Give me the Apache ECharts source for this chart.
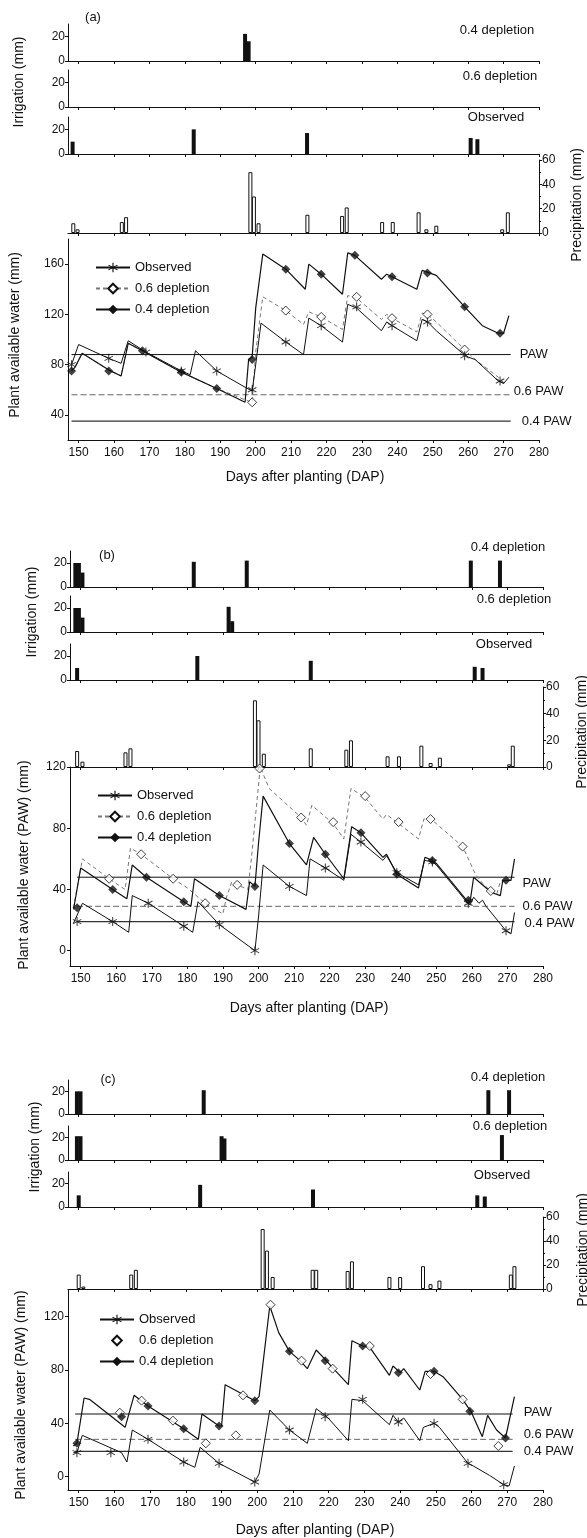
<!DOCTYPE html>
<html><head><meta charset="utf-8">
<script src="https://cdn.jsdelivr.net/npm/echarts@6/dist/echarts.min.js"></script>
<style>html,body{margin:0;padding:0;background:#fff}#chart{width:587px;height:1538px}</style>
</head><body><div id="chart"></div>
<script>
// ---------------- tick labels / names ----------------
const dapTicks = [150,160,170,180,190,200,210,220,230,240,250,260,270,280];
const irrTicks = [0,20];
const aPawTicks = [40,80,120,160];
const bPawTicks = [0,40,80,120];
const cPawTicks = [0,40,80,120];
const panelLabels = ['(a)','(b)','(c)'];
const irrNames = ['0.4 depletion','0.6 depletion','Observed'];
const seriesNames = ['Observed','0.6 depletion','0.4 depletion'];
const levelNames = ['PAW','0.6 PAW','0.4 PAW'];
const pawTitles = ['Plant available water (mm)','Plant available water (PAW) (mm)','Plant available water (PAW) (mm)'];

// ---------------- panel (a) ----------------
const aIrr04 = [[197,22],[198,16]];
const aIrr06 = [];
const aIrrObs = [[148.3,10],[182.5,20],[214.5,17],[260.7,13],[262.6,12]];
const aRainDays = [148.5,149.7,162.2,163.4,198.5,199.5,200.8,214.6,224.4,225.7,235.7,238.7,246,248.2,251,269.6,271.2];
const aRainMm   = [8,3,9,13,50,30,8,15,14,21,9,9,17,3,6,3,17];
const aObsLine = [[148,80],[150,96],[158.5,85],[162,81],[164,99],[169,90],[179,75],[181.5,72],[183,91],[189,75],[197,62],[199,59],[200,80],[201.5,113],[208.5,98],[213.5,88],[215,117],[218.5,111],[224.5,98],[226,128],[228.5,125],[235.5,107],[237,114],[238.5,111],[245.5,99],[247,116],[248.5,114],[251,107],[258,90],[260,86],[262,84],[268.5,67],[270,65],[271.5,70]];
const aObsMarks = [[148,80],[158.5,85],[169,90],[179,75],[189,75],[199,60],[208.5,98],[218.5,111],[228.5,126],[238.5,111],[248.5,114],[259,87],[269,67]];
const a06Line = [[148,75],[149,78],[151,89],[159,75],[162,71],[164,97],[168,91],[179,74],[189,61],[197,52],[199,50],[200,90],[202,134],[208.5,123],[213.5,112],[215,122],[218.5,118],[224.5,108],[226,135],[228.5,133],[235.5,116],[237,120],[238.5,117],[245.5,106],[247,121],[248.5,120],[251,114],[259,92],[262,84],[268.5,70],[270,66]];
const a06Marks = [[199,50],[208.5,123],[218.5,118],[228.5,134],[238.5,117],[248.5,120],[259,92]];
const a04Line = [[148,75],[149,78],[151,89],[159,75],[162,71],[164,97],[168,91],[179,74],[189,61],[197,50],[198,84],[199,86],[200,125],[202,168],[208.5,156],[214,140],[215,160],[218.5,152],[224.5,136],[226,169],[228,167],[235.5,148],[237,152],[238.5,150],[245.5,140],[247,155],[249,153],[251,151],[259,126],[264,111],[268.5,105],[270,105],[271.5,119]];
const a04Marks = [[148,75],[158.5,75],[168,91],[179,74],[189,61],[199,84],[208.5,156],[218.5,152],[228,167],[238.5,150],[248.5,153],[259,126],[269,105]];
const aLevels = [88,56,35];
const aLevelDays = [148,272];

// ---------------- panel (b) ----------------
const bIrr04 = [[148.5,20],[149.5,20],[150.5,12],[181.8,21],[196.7,22],[259.7,22],[267.9,22]];
const bIrr06 = [[148.5,20],[149.5,20],[150.5,12],[191.6,21],[192.6,9]];
const bIrrObs = [[149,10],[182.8,20],[214.7,16],[260.8,11],[263,10]];
const bRainDays = [149,150.5,162.6,164,199,200,201.5,214.7,224.7,226,236.3,239.5,245.8,248.4,251,270.5,271.5];
const bRainMm   = [12,4,11,14,50,35,10,14,13,20,8,8,16,3,7,2,16];
const bObsLine = [[148,18],[150.5,31],[159,19],[163.5,12],[164.5,36],[169,31],[179,16],[181.5,12],[183,32],[189,17],[199,0],[200,22],[201.3,56],[208.7,42],[213.5,36],[214.5,60],[218.8,54],[224,46],[226,76],[228.8,71],[235,59],[236,62],[238.9,51],[245,43],[246.7,59],[248.9,58],[250,56],[258.5,32],[259.5,30],[260.5,35],[262,31],[263,33],[264,29],[269.6,13],[271,11],[272,25]];
const bObsMarks = [[149,19],[159,19],[169,31],[179,16],[189,17],[199,0],[208.7,42],[218.8,54],[228.8,71],[238.9,51],[248.9,58],[259,31],[269.6,13]];
const b06Line = [[148,28],[150.5,60],[158,47],[162.5,40],[164,67],[167,63],[176,47],[180,41],[185,31],[190,24],[191,35],[192.5,45],[194,43],[197,40],[198,60],[200.5,120],[203,106],[212,87],[213.5,82],[215,95],[221,83],[224,73],[226,106],[230,100],[235,86],[236,89],[239.4,83],[245,73],[246.5,86],[248.4,86],[250,83],[257.4,68],[261,50],[263,44],[265.3,39],[267,37],[268,45],[270,46]];
const b06Marks = [[158,47],[167,63],[176,47],[185,31],[194,43],[200.3,119],[212,87],[221,84],[230,101],[239.4,84],[248.4,86],[257.4,68],[265.3,39]];
const b04Line = [[148,27],[150,54],[159,40],[163,34],[164.5,56],[168.5,48],[179,32],[181,29],[182,47],[189,36],[196.5,27],[197.5,45],[199,42],[200,70],[201.3,101],[208.7,70],[213.5,56],[215.5,74],[218.8,63],[224,47],[226.2,81],[228.8,77],[235,61],[236,63],[238.9,50],[245,41],[246.8,61],[248.9,59],[250,57],[258.5,33],[259.5,32],[260.5,48],[265.5,38],[268,36],[268.7,46],[271,46],[272,60]];
const b04Marks = [[149,28],[159,40],[168.5,48],[179,32],[189,36],[199,42],[208.7,70],[218.8,63],[228.8,77],[238.9,50],[248.9,59],[259,33],[269.6,46]];
const bLevels = [48,29,19];
const bLevelDays = [149,272];

// ---------------- panel (c) ----------------
const cIrr04 = [[149.5,20],[150.5,20],[185,21],[264.7,21],[270.5,21]];
const cIrr06 = [[149.5,21],[150.5,21],[190,21],[190.8,19],[268.5,22]];
const cIrrObs = [[150,10],[184,19],[215.6,15],[261.6,10],[263.7,9]];
const cRainDays = [150,151.3,164.7,166,201.5,202.7,204.3,215.5,216.5,225.3,226.5,237,240,246.4,248.5,251,271,272];
const cRainMm   = [12,2,12,16,50,32,10,16,16,15,23,10,10,19,4,7,12,19];
const cObsLine = [[148.5,18],[149.5,18],[151,31],[162,18],[163.5,11],[165,35],[169.4,28],[179.4,11],[182.5,7],[184,22],[189.3,10],[199.3,-4],[200.5,2],[203.5,50],[209,35],[214,25],[216.5,51],[219.5,45],[225.5,27],[226.5,58],[229.5,57],[237,39],[238,46],[239.5,41],[241,44],[245.5,27],[246.5,37],[249.5,40],[251,37],[259,10],[260.5,8],[265,1],[269,-6],[270.5,-7],[272,8]];
const cObsMarks = [[149.5,18],[159,18],[169.4,28],[179.4,11],[189.3,10],[199.3,-4],[209,35],[219,45],[229.5,58],[239.5,41],[249.5,40],[259,10],[269,-6]];
const c06Marks = [[161.5,48],[167.6,57],[176.4,42],[185.6,25],[194,31],[196,61],[203.7,129],[212.4,87],[221.1,81],[231.5,98],[248.5,77],[257.5,58],[267.5,23]];
const c04Line = [[148.5,23],[149.5,25],[151.5,59],[153,58],[163,37],[165.5,61],[169.4,53],[179.4,36],[183.5,28],[184.5,47],[189.3,38],[190,38],[191,69],[199.3,57],[200.5,60],[203.5,128],[206,108],[209,94],[212,87],[214,81],[216.5,95],[219,88],[221,82],[225.5,69],[226.5,102],[229.5,98],[231.5,97],[237,76],[238,83],[240,78],[241,81],[245.5,65],[247,79],[249.5,79],[252,75],[257.5,58],[260,48],[263,30],[264.5,46],[267,35],[269.5,29],[272,60]];
const c04Marks = [[149.5,25],[162,45],[169.4,53],[179.4,36],[189.3,38],[199.3,57],[209,94],[219,87],[229.5,98],[239.5,78],[249.5,79],[259.5,49],[269.5,29]];
const cLevels = [47,28,19];
const cLevelDays = [149,271.5];

// ---------------- layout (positions only) ----------------
const FONT = "'Liberation Sans', Arial, Helvetica, sans-serif";
const INK = '#111';
const L = [
 {left:68,width:471, irr:[[24,37],[70,37],[117,37]], rain:[160,73], paw:[239,201], pawMin:20, pawMax:180,
  irrLabel:[19,82], rainLabel:[577,205], pawLabel:[15,335], dap:[305,477], plabel:[93,17], irrNameX:[497,500,496], irrNameY:[30,76,117],
  legend:[90,256], lvlOff:[[0,0],[0,-3],[0,0]], lvlDist:[9,3,11]},
 {left:70,width:473, irr:[[551,36],[596,36],[644,36]], rain:[687,80], paw:[767,199], pawMin:-10, pawMax:120,
  irrLabel:[32,612], rainLabel:[582,732], pawLabel:[24,865], dap:[309,1008], plabel:[107,555], irrNameX:[508,514,504], irrNameY:[547,599,644],
  legend:[92,784], lvlOff:[[0,6],[0,0],[0,2]], lvlDist:[8,8,10]},
 {left:68,width:475, irr:[[1080,34],[1126,34],[1172,35]], rain:[1217,72], paw:[1290,200], pawMin:-10, pawMax:140,
  irrLabel:[35,1147], rainLabel:[583,1250], pawLabel:[21,1395], dap:[315,1530], plabel:[108,1079], irrNameX:[508,510,502], irrNameY:[1077,1126,1175],
  legend:[94,1308], lvlOff:[[0,-2],[0,-5],[0,0]], lvlDist:[11,11,11]}
];

const P = [
 {key:'a', irr:[aIrr04,aIrr06,aIrrObs], rd:aRainDays, rm:aRainMm, obsL:aObsLine, obsM:aObsMarks, l06:a06Line, m06:a06Marks, l04:a04Line, m04:a04Marks, lv:aLevels, lvd:aLevelDays, ticks:aPawTicks},
 {key:'b', irr:[bIrr04,bIrr06,bIrrObs], rd:bRainDays, rm:bRainMm, obsL:bObsLine, obsM:bObsMarks, l06:b06Line, m06:b06Marks, l04:b04Line, m04:b04Marks, lv:bLevels, lvd:bLevelDays, ticks:bPawTicks},
 {key:'c', irr:[cIrr04,cIrr06,cIrrObs], rd:cRainDays, rm:cRainMm, obsL:cObsLine, obsM:cObsMarks, l06:null, m06:c06Marks, l04:c04Line, m04:c04Marks, lv:cLevels, lvd:cLevelDays, ticks:cPawTicks}
];

function asterisk(){
  let p = ''; const w = 0.11;
  [90,30,150].forEach(a => {
    const r = a*Math.PI/180, dx = Math.cos(r), dy = Math.sin(r), nx = -dy*w, ny = dx*w;
    const pts = [[-dx+nx,-dy+ny],[dx+nx,dy+ny],[dx-nx,dy-ny],[-dx-nx,-dy-ny]];
    p += 'M' + pts.map(q => q[0].toFixed(3)+','+q[1].toFixed(3)).join('L') + 'Z';
  });
  return 'path://' + p;
}
const STAR = asterisk();

const grids=[], xAxes=[], yAxes=[], series=[], graphics=[], legends=[];
function xAx(gi, labels){
  return {gridIndex:gi, type:'value', min:147, max:280,
    axisLine:{show:true, onZero:false, lineStyle:{color:INK, width:1}},
    axisTick:{show:true, length:3, customValues:dapTicks, lineStyle:{color:INK}},
    axisLabel:{show:labels, customValues:dapTicks, fontSize:12, fontFamily:FONT, color:INK, margin:7},
    splitLine:{show:false}};
}
function txt(x,y,text,size,rot){
  graphics.push({type:'text', x:x, y:y, rotation:rot||0, silent:true,
    style:{text:text, fill:INK, font:size+'px '+FONT, textAlign:'center', textVerticalAlign:'middle', align:'center', verticalAlign:'middle'}});
}

P.forEach((p, pi) => {
  const lay = L[pi];
  // irrigation grids
  p.irr.forEach((data, k) => {
    const gi = grids.length;
    grids.push({left:lay.left, width:lay.width, top:lay.irr[k][0], height:lay.irr[k][1]});
    xAxes.push(xAx(gi,false));
    yAxes.push({gridIndex:gi, type:'value', min:0, max:30,
      axisLine:{show:true, lineStyle:{color:INK}},
      axisTick:{show:true, length:3, customValues:irrTicks, lineStyle:{color:INK}},
      axisLabel:{customValues:irrTicks, fontSize:12, fontFamily:FONT, color:INK, margin:3},
      splitLine:{show:false}});
    series.push({type:'bar', name:p.key+':irr'+k, xAxisIndex:gi, yAxisIndex:gi, data:data, barWidth:4,
      itemStyle:{color:INK}, silent:true});
    txt(lay.irrNameX[k], lay.irrNameY[k], irrNames[k], 13);
  });
  // rain grid
  {
    const gi = grids.length;
    grids.push({left:lay.left, width:lay.width, top:lay.rain[0], height:lay.rain[1]});
    xAxes.push(xAx(gi,false));
    yAxes.push({gridIndex:gi, type:'value', position:'right', min:0, max:60, interval:20,
      axisLine:{show:true, lineStyle:{color:INK}},
      axisTick:{show:true, length:3, lineStyle:{color:INK}},
      minorTick:{show:true, splitNumber:2, length:2, lineStyle:{color:INK}},
      axisLabel:{fontSize:12, fontFamily:FONT, color:INK, margin:3},
      splitLine:{show:false}});
    series.push({type:'bar', name:p.key+':rain', xAxisIndex:gi, yAxisIndex:gi,
      data:p.rd.map((d,i)=>[d,p.rm[i]]), barWidth:4,
      itemStyle:{color:'#fff', borderColor:INK, borderWidth:1}, silent:true});
  }
  // PAW grid
  const gi = grids.length;
  grids.push({left:lay.left, width:lay.width, top:lay.paw[0], height:lay.paw[1]});
  xAxes.push(xAx(gi,true));
  yAxes.push({gridIndex:gi, type:'value', min:lay.pawMin, max:lay.pawMax,
    axisLine:{show:true, lineStyle:{color:INK}},
    axisTick:{show:true, length:3, customValues:p.ticks, lineStyle:{color:INK}},
    axisLabel:{customValues:p.ticks, fontSize:12, fontFamily:FONT, color:INK, margin:4},
    splitLine:{show:false}});
  // threshold lines
  const lvlStyles = [{color:INK,width:1,type:'solid'},{color:'#666',width:1,type:[6,3]},{color:'#333',width:1.2,type:'solid'}];
  p.lv.forEach((v,k) => {
    series.push({type:'line', name:p.key+':lvl'+k, xAxisIndex:gi, yAxisIndex:gi, silent:true,
      data:[[p.lvd[0],v],[p.lvd[1],v]], symbol:'none', lineStyle:lvlStyles[k], z:1,
      endLabel:{show:true, formatter:levelNames[k], color:INK, fontSize:13, fontFamily:FONT,
        distance:lay.lvlDist[k], offset:lay.lvlOff[k]}});
  });
  const nm = s => p.key+':'+s;
  const openD = {color:'#fff', borderColor:INK, borderWidth:1};
  // 0.6 depletion (line; in panel c only the markers, so the line is invisible)
  series.push({type:'line', name:nm(seriesNames[1]), xAxisIndex:gi, yAxisIndex:gi, data:p.l06 || [],
    showSymbol:false, symbol:'diamond', symbolSize:9, itemStyle:openD,
    lineStyle:p.l06 ? {color:'#777', width:1, type:[4,3]} : {opacity:0}, z:2});
  series.push({type:'scatter', name:nm(seriesNames[1]), xAxisIndex:gi, yAxisIndex:gi, data:p.m06,
    symbol:'diamond', symbolSize:9, itemStyle:openD, z:5});
  // observed
  series.push({type:'line', name:nm(seriesNames[0]), xAxisIndex:gi, yAxisIndex:gi, data:p.obsL,
    showSymbol:false, symbol:STAR, symbolSize:9, itemStyle:{color:INK},
    lineStyle:{color:INK, width:1}, z:3});
  series.push({type:'scatter', name:nm(seriesNames[0]), xAxisIndex:gi, yAxisIndex:gi, data:p.obsM,
    symbol:STAR, symbolSize:9, itemStyle:{color:INK}, z:5});
  // 0.4 depletion
  series.push({type:'line', name:nm(seriesNames[2]), xAxisIndex:gi, yAxisIndex:gi, data:p.l04,
    showSymbol:false, symbol:'diamond', symbolSize:9, itemStyle:{color:INK},
    lineStyle:{color:INK, width:1.2}, z:4});
  series.push({type:'scatter', name:nm(seriesNames[2]), xAxisIndex:gi, yAxisIndex:gi, data:p.m04,
    symbol:'diamond', symbolSize:9, itemStyle:{color:INK}, z:6});

  legends.push({data:seriesNames.map(nm), orient:'vertical', left:lay.legend[0], top:lay.legend[1],
    itemWidth:34, itemHeight:12, itemGap:8, selectedMode:false,
    formatter: n => n.slice(2), textStyle:{fontSize:13, fontFamily:FONT, color:INK}});

  // titles
  txt(lay.plabel[0], lay.plabel[1], panelLabels[pi], 13);
  txt(lay.irrLabel[0], lay.irrLabel[1], 'Irrigation (mm)', 14, Math.PI/2);
  txt(lay.rainLabel[0], lay.rainLabel[1], 'Precipitation (mm)', 14, Math.PI/2);
  txt(lay.pawLabel[0], lay.pawLabel[1], pawTitles[pi], 14, Math.PI/2);
  txt(lay.dap[0], lay.dap[1], 'Days after planting (DAP)', 14);
});

const chart = echarts.init(document.getElementById('chart'), null, {renderer:'canvas'});
chart.setOption({
  animation:false, backgroundColor:'#fff',
  grid:grids, xAxis:xAxes, yAxis:yAxes, series:series, legend:legends, graphic:graphics
});
</script></body></html>
